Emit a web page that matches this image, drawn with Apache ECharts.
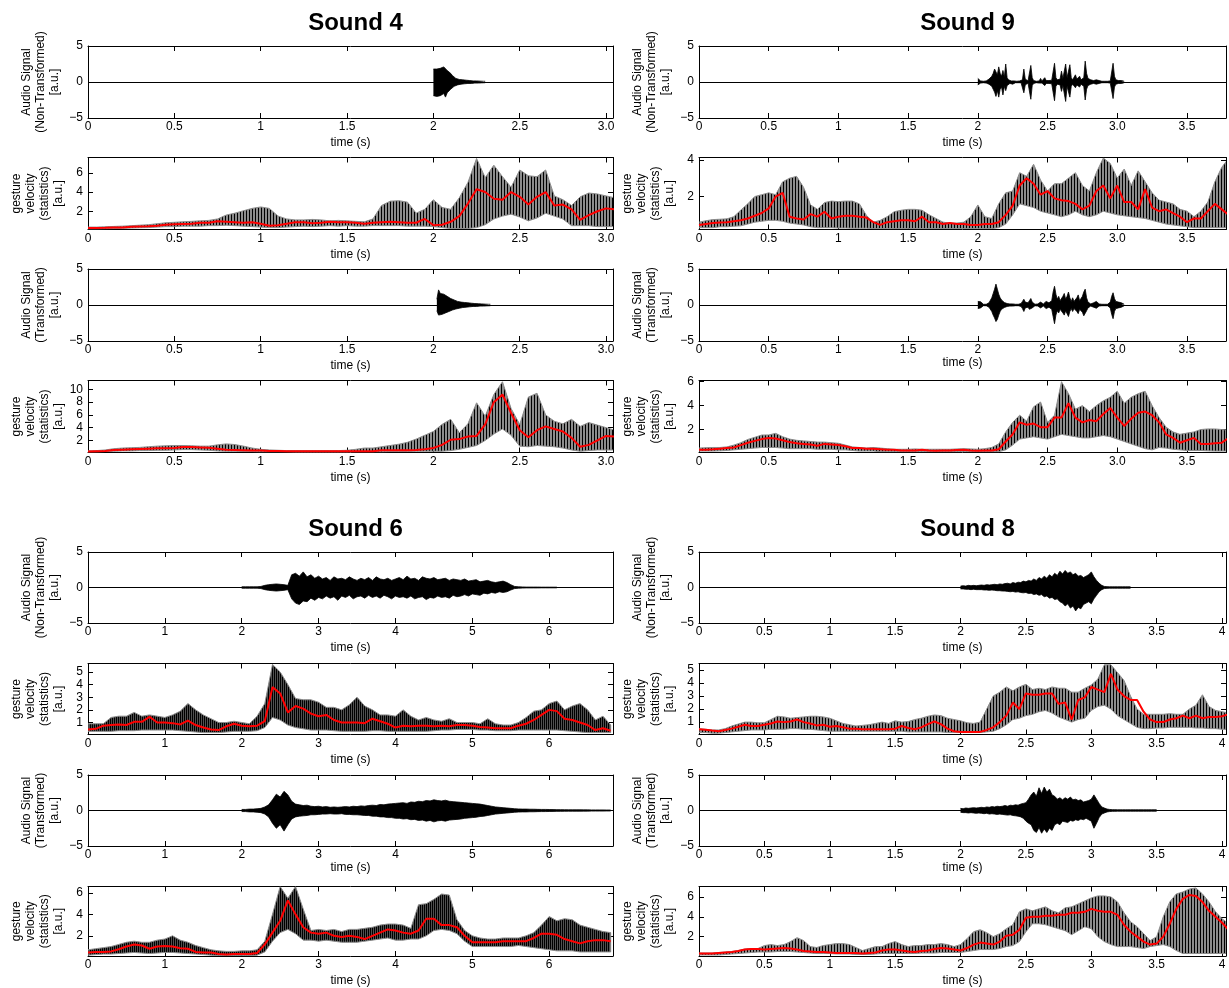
<!DOCTYPE html>
<html><head><meta charset="utf-8">
<script src="https://cdn.jsdelivr.net/npm/echarts@6.0.0/dist/echarts.min.js"></script>
<style>html,body{margin:0;padding:0;background:#fff}#c{width:1229px;height:988px}</style>
</head><body><div id="c"></div>
<script>
// ---------- tick labels ----------
const S4_XTICKS = [0,0.5,1,1.5,2,2.5,3];
const S4_XLABELS = ['0','0.5','1','1.5','2','2.5','3.0'];
const S9_XTICKS = [0,0.5,1,1.5,2,2.5,3,3.5];
const S9_XLABELS = ['0','0.5','1','1.5','2','2.5','3.0','3.5'];
const S6_XTICKS = [0,1,2,3,4,5,6];
const S6_XLABELS = ['0','1','2','3','4','5','6'];
const S8_XTICKS = [0,0.5,1,1.5,2,2.5,3,3.5,4];
const S8_XLABELS = ['0','0.5','1','1.5','2','2.5','3','3.5','4'];
const AUDIO_YTICKS = [-5,0,5];
const AUDIO_YLABELS = ['\u22125','0','5'];

// ---------- Sound 4 ----------
const S4_NT_UP = [1.8,1.9,1.8,2.0,1.9,1.8,2.1,1.9,1.6,1.4,1.2,0.9,0.7,0.5,0.4,0.35,0.3,0.3,0.25,0.25,0.2,0.2,0.2,0.15,0.15,0.15,0.15,0.12,0.12,0.1,0.1];
const S4_NT_DN = [-1.9,-1.7,-2.0,-1.8,-1.9,-2.0,-1.6,-2.1,-1.5,-1.3,-1.0,-0.8,-0.6,-0.5,-0.4,-0.35,-0.3,-0.3,-0.25,-0.25,-0.2,-0.2,-0.2,-0.15,-0.15,-0.15,-0.15,-0.12,-0.12,-0.1,-0.1];
const S4_TR_UP = [0.8,2.1,1.6,1.4,1.5,1.3,1.2,1.0,0.9,0.8,0.7,0.6,0.5,0.45,0.4,0.35,0.35,0.3,0.3,0.25,0.25,0.2,0.2,0.2,0.18,0.15,0.15,0.15,0.12,0.12,0.1,0.1];
const S4_TR_DN = [-0.8,-1.4,-1.2,-1.3,-1.5,-1.1,-1.0,-0.9,-0.8,-0.7,-0.6,-0.55,-0.5,-0.45,-0.4,-0.35,-0.35,-0.3,-0.3,-0.25,-0.25,-0.2,-0.2,-0.2,-0.18,-0.15,-0.15,-0.15,-0.12,-0.12,-0.1,-0.1];
const S4_G1_HI = [0.35,0.35,0.38,0.42,0.45,0.5,0.55,0.6,0.7,0.8,0.85,0.9,0.95,1.0,1.05,1.2,1.6,1.8,2.05,2.3,2.45,2.3,1.5,1.2,1.1,1.1,1.15,1.1,1.0,1.05,1.0,0.95,0.9,1.2,2.6,3.05,3.1,2.95,1.8,2.2,3.2,2.4,2.2,3.4,5.0,7.5,5.5,6.8,5.6,4.5,6.3,5.7,5.6,6.3,3.6,3.2,2.6,3.5,3.9,3.8,3.6,3.4];
const S4_G1_LO = [0.15,0.15,0.18,0.2,0.22,0.25,0.28,0.3,0.35,0.4,0.4,0.45,0.45,0.45,0.5,0.5,0.55,0.5,0.45,0.4,0.35,0.3,0.3,0.35,0.4,0.45,0.4,0.45,0.5,0.45,0.5,0.45,0.45,0.5,0.5,0.5,0.5,0.45,0.45,0.45,0.4,0.3,0.2,0.2,0.2,0.3,0.6,1.2,1.5,1.7,1.4,1.0,1.3,1.8,1.5,1.2,0.5,0.5,0.5,0.4,0.4,0.4];
const S4_G1_MEAN = [0.25,0.25,0.27,0.3,0.32,0.38,0.42,0.45,0.5,0.6,0.65,0.68,0.7,0.8,0.8,0.95,0.9,0.85,0.8,0.85,0.7,0.5,0.55,0.7,0.85,0.85,0.75,0.8,0.9,0.85,0.85,0.8,0.7,0.8,0.85,0.9,0.85,0.8,0.8,1.2,0.55,0.6,0.9,1.5,2.8,4.3,4.0,3.3,3.2,4.0,3.5,2.7,3.5,4.0,2.6,2.7,2.2,1.1,1.6,2.0,2.3,2.2];
const S4_G2_HI = [0.35,0.4,0.5,0.7,0.8,0.85,0.9,1.0,1.1,1.15,1.2,1.2,1.15,1.1,1.1,1.3,1.45,1.35,1.1,0.8,0.6,0.5,0.45,0.4,0.4,0.4,0.4,0.4,0.4,0.4,0.45,0.6,0.8,0.8,1.0,1.2,1.4,1.7,2.2,2.8,3.4,4.5,5.3,3.2,4.6,7.9,5.8,9.2,11.2,7.0,4.5,8.8,9.4,6.0,5.0,4.6,5.3,4.2,4.8,4.4,4.0,3.6];
const S4_G2_LO = [0.2,0.2,0.25,0.3,0.35,0.35,0.4,0.4,0.45,0.45,0.5,0.55,0.55,0.5,0.45,0.35,0.3,0.3,0.25,0.25,0.2,0.2,0.2,0.2,0.15,0.15,0.15,0.15,0.15,0.15,0.15,0.2,0.2,0.2,0.2,0.25,0.25,0.25,0.3,0.3,0.3,0.3,0.4,0.6,0.9,1.2,2.0,3.0,3.8,2.8,1.1,1.0,1.2,1.1,1.0,0.8,0.5,0.3,0.4,0.5,0.5,0.5];
const S4_G2_MEAN = [0.25,0.3,0.35,0.5,0.55,0.6,0.65,0.7,0.75,0.75,0.8,0.95,0.95,0.9,0.85,0.7,0.55,0.5,0.45,0.4,0.4,0.35,0.35,0.3,0.3,0.3,0.3,0.3,0.3,0.3,0.3,0.3,0.3,0.3,0.45,0.45,0.45,0.45,0.5,0.6,0.8,1.3,2.1,2.2,2.6,2.7,4.5,8.0,9.2,6.3,3.6,2.5,3.6,4.2,3.8,3.4,2.4,1.0,1.3,2.0,2.7,2.6];

// ---------- Sound 9 ----------
const S9_NT_UP = [0.5,0.3,0.15,0.1,0.1,0.1,0.15,0.1,0.4,0.3,0.8,1.2,1.8,1.9,1.0,2.1,1.2,0.8,1.6,0.7,2.5,0.6,0.3,0.2,0.15,0.3,0.15,0.1,0.1,0.1,0.15,0.1,0.3,1.8,0.4,0.2,0.15,0.3,2.3,0.6,0.2,0.15,0.1,0.1,0.15,0.5,0.15,0.2,0.6,0.2,0.15,0.2,0.3,0.25,0.4,2.6,0.6,0.3,0.5,0.4,1.5,0.5,0.4,2.5,0.6,0.5,2.4,0.6,0.3,0.3,1.0,0.4,0.3,0.8,0.3,0.4,0.6,2.9,1.2,0.5,0.6,0.3,0.25,0.2,0.25,0.3,0.4,0.2,0.15,0.1,0.1,0.1,0.1,0.1,0.12,0.15,0.4,2.6,0.8,0.3,0.4,0.2,0.15,0.2,0.1,0.1];
const S9_NT_DN = [-0.4,-0.3,-0.15,-0.1,-0.1,-0.1,-0.15,-0.1,-0.3,-0.3,-0.6,-1.0,-1.4,-2.0,-1.2,-2.1,-1.0,-0.7,-1.8,-0.6,-1.2,-0.5,-0.3,-0.2,-0.15,-0.3,-0.15,-0.1,-0.1,-0.1,-0.15,-0.1,-0.3,-1.5,-0.4,-0.2,-0.15,-0.3,-2.4,-0.5,-0.2,-0.15,-0.1,-0.1,-0.15,-0.4,-0.15,-0.2,-0.5,-0.2,-0.15,-0.2,-0.3,-0.25,-0.4,-2.6,-0.6,-0.3,-0.5,-0.4,-1.3,-0.5,-0.4,-2.7,-0.6,-0.5,-2.1,-0.6,-0.3,-0.3,-0.8,-0.4,-0.3,-0.7,-0.3,-0.4,-0.6,-2.5,-1.0,-0.5,-0.5,-0.3,-0.25,-0.2,-0.25,-0.3,-0.3,-0.2,-0.15,-0.1,-0.1,-0.1,-0.1,-0.1,-0.12,-0.15,-0.4,-2.3,-0.7,-0.3,-0.4,-0.2,-0.15,-0.2,-0.1,-0.1];
const S9_TR_UP = [0.5,0.55,0.45,0.3,0.1,0.1,0.1,0.15,0.3,0.5,1.0,1.6,2.2,2.9,2.2,1.5,1.0,0.7,0.5,0.35,0.3,0.2,0.2,0.15,0.2,0.15,0.15,0.1,0.1,0.1,0.15,0.2,0.5,0.8,0.4,0.2,0.3,0.6,0.9,0.4,0.15,0.1,0.1,0.15,0.3,0.4,0.2,0.15,0.3,0.5,0.6,0.3,0.2,0.6,1.8,2.6,1.5,0.8,1.2,0.6,0.8,1.2,1.6,0.8,1.2,1.8,1.0,0.5,1.0,0.5,0.6,1.0,1.4,0.6,0.5,1.2,1.8,2.2,1.0,0.4,0.2,0.15,0.2,0.3,0.45,0.5,0.3,0.15,0.1,0.1,0.1,0.1,0.1,0.1,0.15,0.4,1.2,1.7,0.9,0.5,0.6,0.4,0.3,0.3,0.15,0.1];
const S9_TR_DN = [-0.5,-0.5,-0.4,-0.3,-0.1,-0.1,-0.1,-0.15,-0.3,-0.5,-0.9,-1.4,-1.8,-2.3,-2.0,-1.4,-0.9,-0.6,-0.5,-0.35,-0.3,-0.2,-0.2,-0.15,-0.2,-0.15,-0.15,-0.1,-0.1,-0.1,-0.15,-0.2,-0.5,-0.9,-0.4,-0.2,-0.3,-0.6,-0.8,-0.4,-0.15,-0.1,-0.1,-0.15,-0.3,-0.4,-0.2,-0.15,-0.3,-0.5,-0.6,-0.3,-0.2,-0.6,-1.6,-2.6,-1.4,-0.8,-1.1,-0.6,-0.8,-1.1,-1.4,-0.8,-1.0,-1.6,-0.9,-0.5,-0.9,-0.5,-0.6,-0.9,-1.2,-0.6,-0.5,-1.0,-1.5,-1.6,-0.8,-0.4,-0.2,-0.15,-0.2,-0.3,-0.4,-0.45,-0.3,-0.15,-0.1,-0.1,-0.1,-0.1,-0.1,-0.1,-0.15,-0.4,-1.3,-1.9,-0.9,-0.5,-0.6,-0.4,-0.3,-0.3,-0.15,-0.1];
const S9_G1_HI = [0.6,0.68,0.74,0.76,0.78,0.9,1.26,1.6,2.0,2.1,2.2,2.1,2.8,3.0,3.1,2.5,1.54,1.3,1.67,1.75,1.72,1.75,1.75,1.6,0.98,0.6,0.7,0.9,1.17,1.25,1.3,1.3,1.25,1.0,0.8,0.6,0.55,0.55,0.6,0.9,1.54,0.9,0.8,1.6,2.2,2.3,3.3,3.1,3.76,2.9,2.3,2.7,2.7,3.0,3.3,2.6,2.3,3.3,4.1,3.8,3.0,3.5,2.6,3.4,2.8,2.2,1.8,1.7,1.6,1.3,1.2,0.9,1.2,1.7,2.8,3.6,4.1];
const S9_G1_LO = [0.3,0.3,0.3,0.35,0.35,0.38,0.4,0.5,0.6,0.65,0.7,0.7,0.65,0.55,0.5,0.45,0.35,0.3,0.3,0.3,0.28,0.28,0.27,0.27,0.27,0.25,0.25,0.25,0.25,0.25,0.25,0.25,0.25,0.25,0.25,0.25,0.25,0.25,0.25,0.25,0.25,0.25,0.25,0.3,0.5,1.0,1.6,1.5,1.4,1.2,1.1,1.0,0.9,1.0,1.2,1.0,0.9,1.0,1.2,1.1,1.0,0.95,0.9,0.85,0.8,0.7,0.6,0.5,0.45,0.4,0.35,0.3,0.3,0.3,0.3,0.3,0.3];
const S9_G1_MEAN = [0.45,0.5,0.55,0.58,0.6,0.65,0.7,0.8,0.95,1.1,1.35,2.0,2.2,0.9,0.8,0.75,1.04,0.9,1.17,0.8,0.9,0.95,0.95,0.9,0.85,0.6,0.45,0.6,0.65,0.7,0.7,0.65,0.9,0.6,0.6,0.5,0.55,0.5,0.5,0.45,0.45,0.5,0.5,0.6,1.0,1.5,2.6,3.0,2.7,2.1,2.3,1.9,1.8,1.75,1.6,1.3,1.5,2.3,2.6,1.9,2.6,1.7,1.7,1.3,2.4,1.4,1.2,1.3,1.1,0.9,0.6,0.8,0.8,1.2,1.6,1.3,1.0];
const S9_G2_HI = [0.45,0.48,0.5,0.5,0.55,0.7,0.9,1.17,1.35,1.54,1.55,1.68,1.4,1.2,1.1,1.05,1.0,0.95,0.95,0.9,0.85,0.7,0.55,0.5,0.45,0.5,0.45,0.4,0.35,0.35,0.35,0.38,0.35,0.35,0.35,0.35,0.35,0.38,0.4,0.38,0.35,0.4,0.5,0.8,1.8,2.6,3.2,2.7,3.9,4.3,2.6,3.2,6.0,5.0,3.7,4.0,3.5,4.0,4.4,4.7,5.2,4.2,4.7,5.0,5.2,4.0,3.0,2.2,1.8,1.6,1.7,1.8,2.0,2.05,2.05,2.0,1.95];
const S9_G2_LO = [0.2,0.2,0.2,0.22,0.25,0.3,0.35,0.4,0.45,0.5,0.5,0.5,0.45,0.4,0.4,0.4,0.4,0.35,0.35,0.35,0.3,0.3,0.25,0.2,0.2,0.2,0.15,0.15,0.15,0.15,0.15,0.15,0.15,0.15,0.15,0.15,0.15,0.15,0.15,0.15,0.15,0.15,0.15,0.15,0.3,0.7,1.2,1.3,1.4,1.3,1.2,1.4,1.6,1.5,1.4,1.3,1.3,1.4,1.5,1.4,1.2,1.0,0.8,0.6,0.4,0.3,0.5,0.45,0.35,0.3,0.25,0.25,0.25,0.22,0.2,0.2,0.2];
const S9_G2_MEAN = [0.3,0.32,0.35,0.4,0.45,0.5,0.7,0.9,1.05,1.2,1.3,1.25,1.1,0.95,0.85,0.8,0.75,0.65,0.8,0.75,0.7,0.6,0.45,0.45,0.4,0.4,0.35,0.3,0.3,0.25,0.25,0.25,0.3,0.25,0.22,0.25,0.25,0.28,0.3,0.25,0.22,0.25,0.25,0.35,1.0,1.6,2.6,2.4,2.5,2.2,2.2,3.0,3.0,4.2,3.0,2.6,2.8,2.7,3.3,3.8,3.0,2.3,2.9,3.4,3.5,3.2,2.6,1.6,1.3,0.9,1.1,1.3,0.8,0.8,0.85,0.9,1.3];

// ---------- Sound 6 ----------
const S6_NT_UP = [0.1,0.1,0.1,0.1,0.1,0.15,0.3,0.4,0.45,0.5,0.45,0.4,0.3,1.8,2.0,1.6,2.2,1.5,1.8,1.3,1.6,1.2,1.4,1.0,1.5,1.2,1.3,1.1,1.5,1.2,1.0,1.3,1.1,1.4,1.0,1.5,1.2,1.1,1.3,1.0,1.2,1.4,1.1,1.6,1.2,1.3,1.0,1.5,1.3,1.2,1.4,1.1,1.2,1.3,1.0,1.2,1.1,1.0,1.2,0.9,1.0,1.1,0.8,0.9,1.0,0.8,0.7,0.8,0.9,0.7,0.4,0.15,0.1,0.08,0.06,0.06,0.06,0.06,0.05,0.05,0.05,0.05,0.05];
const S6_NT_DN = [-0.1,-0.1,-0.1,-0.1,-0.1,-0.15,-0.3,-0.4,-0.45,-0.5,-0.45,-0.4,-0.3,-1.6,-2.2,-2.4,-1.9,-2.0,-1.5,-1.8,-1.4,-1.6,-1.2,-1.5,-1.3,-1.8,-1.2,-1.4,-1.1,-1.6,-1.3,-1.2,-1.5,-1.1,-1.4,-1.2,-1.5,-1.1,-1.3,-1.6,-1.2,-1.4,-1.3,-1.5,-1.2,-1.6,-1.4,-1.3,-1.7,-1.4,-1.5,-1.2,-1.4,-1.3,-1.5,-1.1,-1.3,-1.2,-1.0,-1.2,-0.9,-1.0,-1.1,-0.8,-0.9,-0.7,-0.8,-0.6,-0.7,-0.6,-0.35,-0.15,-0.1,-0.08,-0.06,-0.06,-0.06,-0.06,-0.05,-0.05,-0.05,-0.05,-0.05];
const S6_TR_UP = [0.15,0.15,0.2,0.2,0.25,0.3,0.5,0.8,1.5,2.3,1.9,2.7,2.2,1.3,0.9,0.8,0.7,0.75,0.6,0.55,0.6,0.5,0.55,0.45,0.5,0.45,0.5,0.55,0.5,0.6,0.55,0.65,0.6,0.7,0.75,0.7,0.85,0.8,0.9,0.95,1.0,1.05,1.1,1.0,1.2,1.15,1.3,1.25,1.4,1.35,1.5,1.4,1.35,1.45,1.3,1.25,1.2,1.15,1.1,1.05,1.0,0.95,0.9,0.8,0.7,0.6,0.5,0.45,0.4,0.35,0.3,0.25,0.22,0.2,0.2,0.18,0.18,0.16,0.15,0.15,0.14,0.13,0.12,0.12,0.11,0.1,0.1,0.1,0.1,0.09,0.09,0.08,0.08,0.08,0.08,0.07,0.07];
const S6_TR_DN = [-0.15,-0.15,-0.2,-0.2,-0.25,-0.3,-0.5,-0.9,-1.8,-2.5,-2.0,-2.9,-2.0,-1.2,-0.9,-0.8,-0.75,-0.7,-0.6,-0.6,-0.55,-0.5,-0.5,-0.45,-0.5,-0.5,-0.45,-0.55,-0.55,-0.6,-0.6,-0.65,-0.7,-0.7,-0.8,-0.8,-0.9,-0.9,-1.0,-1.0,-1.1,-1.1,-1.2,-1.15,-1.3,-1.25,-1.4,-1.35,-1.5,-1.4,-1.6,-1.45,-1.4,-1.5,-1.35,-1.3,-1.25,-1.2,-1.1,-1.05,-1.0,-0.95,-0.85,-0.8,-0.7,-0.6,-0.5,-0.45,-0.4,-0.35,-0.3,-0.25,-0.22,-0.2,-0.2,-0.18,-0.18,-0.16,-0.15,-0.15,-0.14,-0.13,-0.12,-0.12,-0.11,-0.1,-0.1,-0.1,-0.1,-0.09,-0.09,-0.08,-0.08,-0.08,-0.08,-0.07,-0.07];
const S6_G1_HI = [0.9,0.9,0.9,1.4,1.5,1.5,1.8,1.5,1.6,1.5,1.4,1.6,1.9,2.5,2.0,1.6,1.3,1.0,1.0,1.1,1.0,0.9,1.5,2.5,5.6,5.0,4.0,2.9,2.8,2.8,2.6,2.2,2.2,2.0,2.4,3.0,2.3,2.0,1.6,1.6,1.5,2.0,1.5,1.2,1.4,1.2,1.1,1.3,1.0,1.0,1.0,0.9,1.3,0.9,0.8,0.8,1.0,1.4,1.9,2.0,2.5,2.7,2.0,2.3,2.5,2.0,1.2,1.5,0.8];
const S6_G1_LO = [0.3,0.3,0.3,0.3,0.35,0.35,0.35,0.4,0.4,0.4,0.4,0.4,0.35,0.3,0.25,0.2,0.2,0.2,0.25,0.3,0.3,0.3,0.35,0.6,1.4,1.2,0.8,0.6,0.5,0.4,0.4,0.4,0.35,0.3,0.3,0.3,0.3,0.35,0.35,0.3,0.3,0.3,0.3,0.3,0.3,0.35,0.4,0.4,0.45,0.45,0.45,0.4,0.4,0.35,0.35,0.35,0.4,0.4,0.4,0.4,0.4,0.4,0.35,0.3,0.25,0.2,0.2,0.2,0.2];
const S6_G1_MEAN = [0.45,0.5,0.75,0.8,0.85,0.8,1.05,1.05,1.45,1.0,1.0,0.95,0.85,1.15,0.8,0.6,0.45,0.4,0.7,0.9,0.75,0.7,0.75,1.1,3.8,3.3,1.8,2.3,2.1,1.7,1.5,1.6,1.2,1.0,1.0,1.0,0.95,1.3,1.1,0.9,0.6,0.75,0.7,0.75,0.75,0.7,0.75,0.7,0.8,0.8,0.75,0.65,0.6,0.55,0.55,0.55,0.75,0.9,1.2,1.6,2.0,1.9,1.3,1.2,1.0,0.8,0.4,0.55,0.35];
const S6_G2_HI = [0.7,0.8,0.9,1.0,1.2,1.4,1.5,1.4,1.4,1.6,1.7,2.0,1.6,1.4,1.1,0.9,0.7,0.6,0.55,0.55,0.6,0.6,0.7,1.5,4.0,6.6,5.5,6.6,4.5,2.5,2.6,2.5,2.6,2.4,2.6,2.6,2.7,2.8,3.0,3.1,3.1,3.0,2.7,4.9,5.0,5.4,5.9,5.8,3.5,2.5,2.0,1.8,1.7,1.7,1.8,1.8,1.8,2.0,2.3,3.0,3.8,3.4,3.6,3.5,3.0,2.8,2.6,2.4,2.3];
const S6_G2_LO = [0.2,0.25,0.3,0.3,0.35,0.4,0.45,0.4,0.35,0.4,0.45,0.45,0.4,0.35,0.3,0.25,0.2,0.15,0.15,0.15,0.15,0.15,0.2,0.5,1.5,2.3,2.6,2.2,1.6,1.6,1.5,1.6,1.5,1.4,1.4,1.4,1.5,1.6,1.7,1.8,1.6,1.6,1.7,1.7,2.0,2.5,2.6,2.5,2.2,1.5,1.0,1.0,1.0,1.0,1.0,1.0,1.1,1.0,0.9,0.8,0.7,0.6,0.6,0.6,0.5,0.5,0.5,0.5,0.5];
const S6_G2_MEAN = [0.45,0.5,0.5,0.55,0.75,1.0,1.2,1.1,0.8,1.0,1.05,1.0,0.85,0.8,0.5,0.45,0.45,0.3,0.25,0.3,0.3,0.3,0.4,1.2,2.3,3.4,5.3,4.0,2.8,2.3,2.2,2.3,2.0,1.9,2.0,1.9,1.7,2.0,2.3,2.6,2.5,2.3,2.2,2.5,3.6,3.6,3.0,3.0,2.8,2.0,1.4,1.4,1.4,1.4,1.5,1.5,1.5,1.5,1.8,2.2,2.2,2.1,1.7,1.5,1.3,1.5,1.6,1.6,1.5];

// ---------- Sound 8 ----------
const S8_NT_UP = [0.2,0.25,0.2,0.3,0.25,0.3,0.25,0.3,0.35,0.3,0.4,0.35,0.4,0.45,0.4,0.5,0.45,0.55,0.6,0.5,0.7,0.6,0.75,0.7,0.9,0.8,1.0,0.9,1.2,1.0,1.4,1.2,1.6,1.3,1.8,1.5,2.0,1.7,2.3,1.9,2.4,2.0,2.2,1.8,2.0,1.6,1.7,1.4,1.6,1.8,2.2,1.5,1.0,0.6,0.3,0.15,0.12,0.1,0.1,0.1,0.1,0.1,0.1,0.1,0.1,0.1];
const S8_NT_DN = [-0.2,-0.2,-0.25,-0.25,-0.3,-0.25,-0.3,-0.3,-0.3,-0.35,-0.35,-0.4,-0.35,-0.4,-0.45,-0.45,-0.5,-0.5,-0.55,-0.6,-0.55,-0.65,-0.6,-0.7,-0.75,-0.7,-0.85,-0.8,-1.0,-0.9,-1.1,-1.0,-1.3,-1.2,-1.5,-1.4,-1.7,-1.6,-2.0,-2.2,-2.6,-2.3,-2.9,-2.6,-3.3,-2.8,-3.0,-2.4,-2.2,-2.0,-2.3,-1.6,-1.1,-0.6,-0.3,-0.15,-0.12,-0.1,-0.1,-0.1,-0.1,-0.1,-0.1,-0.1,-0.1,-0.1];
const S8_TR_UP = [0.3,0.25,0.35,0.3,0.35,0.4,0.35,0.4,0.45,0.4,0.5,0.45,0.55,0.5,0.6,0.55,0.6,0.7,0.6,0.75,0.7,0.8,0.75,0.9,1.0,1.1,1.6,2.2,2.6,2.0,3.2,2.4,3.3,2.6,3.0,2.2,2.0,1.6,1.8,1.5,1.8,1.6,1.9,1.5,1.6,1.4,1.5,1.2,1.3,1.4,1.6,2.2,1.6,1.0,0.5,0.35,0.2,0.15,0.12,0.12,0.1,0.1,0.1,0.1,0.1,0.1,0.1,0.1,0.1,0.1,0.1,0.1,0.1,0.1,0.1,0.1];
const S8_TR_DN = [-0.25,-0.3,-0.3,-0.35,-0.3,-0.35,-0.4,-0.35,-0.4,-0.45,-0.4,-0.5,-0.45,-0.5,-0.55,-0.5,-0.55,-0.6,-0.65,-0.6,-0.7,-0.75,-0.8,-0.9,-1.1,-1.5,-1.8,-2.0,-2.8,-3.1,-2.4,-3.2,-2.6,-3.1,-2.5,-2.8,-2.0,-1.8,-2.0,-1.5,-1.6,-1.7,-1.4,-1.5,-1.3,-1.4,-1.2,-1.3,-1.1,-1.3,-1.5,-2.5,-1.8,-1.0,-0.5,-0.35,-0.2,-0.15,-0.12,-0.12,-0.1,-0.1,-0.1,-0.1,-0.1,-0.1,-0.1,-0.1,-0.1,-0.1,-0.1,-0.1,-0.1,-0.1,-0.1,-0.1];
const S8_G1_HI = [0.5,0.45,0.4,0.4,0.5,0.7,0.85,1.0,1.0,0.95,0.95,1.2,1.45,1.4,1.3,1.35,1.4,1.45,1.45,1.4,1.3,1.1,0.9,0.8,0.7,0.75,0.8,0.9,1.0,0.9,1.1,1.0,1.05,1.2,1.3,1.45,1.55,1.5,1.3,1.2,1.1,0.95,0.9,1.0,2.0,3.0,3.3,3.7,3.4,3.7,3.9,3.5,3.6,3.5,3.7,3.6,3.6,3.3,3.3,3.6,3.85,4.3,5.4,5.4,4.8,4.2,3.0,2.0,1.6,1.6,1.6,1.6,1.65,1.6,1.6,2.0,2.3,3.1,2.2,1.9,1.8,1.7];
const S8_G1_LO = [0.2,0.2,0.15,0.15,0.2,0.25,0.3,0.35,0.4,0.4,0.4,0.45,0.45,0.45,0.5,0.5,0.45,0.45,0.4,0.35,0.3,0.3,0.3,0.3,0.3,0.3,0.3,0.3,0.3,0.3,0.3,0.3,0.25,0.25,0.25,0.25,0.25,0.25,0.2,0.2,0.2,0.2,0.2,0.2,0.25,0.3,0.5,0.8,1.2,1.3,1.5,1.6,1.8,1.9,1.7,1.4,1.2,1.0,1.2,1.3,1.9,2.2,2.3,2.0,1.5,1.2,0.9,0.6,0.5,0.5,0.55,0.55,0.6,0.6,0.6,0.6,0.55,0.55,0.5,0.5,0.45,0.45];
const S8_G1_MEAN = [0.45,0.42,0.35,0.3,0.4,0.5,0.65,0.8,0.7,0.7,0.8,0.9,1.05,1.0,1.05,1.2,1.0,0.9,0.75,0.8,0.65,0.7,0.6,0.5,0.5,0.45,0.45,0.45,0.45,0.45,0.5,0.7,0.55,0.45,0.6,0.85,1.05,0.85,0.5,0.3,0.25,0.25,0.25,0.25,0.4,0.6,1.0,1.5,2.5,2.0,3.2,3.1,3.1,3.2,3.2,2.4,2.5,1.2,2.7,2.9,3.7,3.5,3.3,4.7,3.5,3.0,2.7,2.7,1.8,1.2,1.0,1.0,1.2,1.3,1.5,1.3,1.5,1.3,1.4,1.4,1.45,1.6];
const S8_G2_HI = [0.35,0.35,0.35,0.4,0.45,0.5,0.6,0.75,0.8,0.8,1.1,1.2,1.1,1.2,1.5,1.9,1.6,1.0,0.9,1.1,1.2,1.3,1.3,1.2,0.9,0.6,0.8,1.0,1.0,1.3,1.5,1.2,1.0,1.1,1.1,1.2,1.2,1.3,1.2,1.0,1.2,1.8,2.5,2.7,2.4,2.0,2.3,2.8,3.2,4.5,4.8,4.6,4.8,5.0,4.6,4.4,4.9,5.0,5.3,5.6,5.9,6.1,6.1,6.0,5.5,4.4,3.5,3.0,2.3,1.6,2.0,4.0,5.5,6.3,6.5,6.8,6.9,6.3,5.5,4.5,3.8,3.3];
const S8_G2_LO = [0.15,0.15,0.15,0.15,0.2,0.25,0.3,0.35,0.4,0.45,0.45,0.45,0.5,0.5,0.5,0.45,0.4,0.35,0.3,0.3,0.3,0.25,0.25,0.25,0.2,0.2,0.2,0.25,0.3,0.3,0.3,0.3,0.3,0.3,0.35,0.35,0.35,0.4,0.4,0.4,0.4,0.5,0.6,0.7,0.7,0.7,0.8,1.0,1.1,1.5,2.5,3.3,3.3,3.2,3.0,2.8,2.6,2.2,2.6,3.0,2.8,2.0,1.5,1.2,1.0,1.0,1.0,0.9,0.8,1.0,1.1,1.2,1.0,0.6,0.3,0.3,0.3,0.3,0.3,0.3,0.3,0.3];
const S8_G2_MEAN = [0.3,0.3,0.3,0.35,0.4,0.45,0.55,0.7,0.75,0.75,0.7,0.75,0.8,0.85,0.8,0.7,0.55,0.5,0.45,0.45,0.4,0.35,0.35,0.35,0.35,0.3,0.35,0.4,0.6,0.7,0.7,0.6,0.5,0.45,0.55,0.6,0.75,0.85,0.8,0.7,0.6,0.85,1.2,1.4,1.3,1.2,1.5,2.1,2.2,2.7,3.9,4.0,4.0,4.1,4.1,4.2,4.2,4.4,4.4,4.5,4.8,4.6,4.5,4.5,4.2,3.2,2.5,2.0,1.5,1.2,1.3,2.0,3.3,4.8,5.8,6.2,6.1,5.5,4.6,4.0,3.4,2.7];

// ---------- layout / style ----------
const FONT = '"Liberation Sans", Arial, Helvetica, sans-serif';
const AUDIO_NT = 'Audio Signal\n(Non-Transformed)\n[a.u.]';
const AUDIO_TR = 'Audio Signal\n(Transformed)\n[a.u.]';
const GESTURE = 'gesture\nvelocity\n(statistics)\n[a.u.]';
const COLS = [{left:88,width:525},{left:699,width:527}];
const ROWS = [{top:46,h:72},{top:157.5,h:72},{top:269,h:72},{top:380.5,h:72},
              {top:552,h:71},{top:663.5,h:71},{top:775,h:71},{top:886.5,h:71}];

function stripes(period, light){
  const c = document.createElement('canvas'); c.width = period; c.height = 8;
  const g = c.getContext('2d'); g.fillStyle = light; g.fillRect(0,0,period,8);
  g.fillStyle = '#000'; g.fillRect(0,0,1,8); return c;
}

const SOUNDS = [
  {title:'Sound 4', col:0, row0:0, xmax:3.04, xt:S4_XTICKS, xl:S4_XLABELS, gStep:0.05, pat:[3,'#8c8c8c'],
   panels:[
    {kind:'a', name:AUDIO_NT, up:S4_NT_UP, dn:S4_NT_DN, t0:2.0, dt:0.01, gap:19},
    {kind:'g', hi:S4_G1_HI, lo:S4_G1_LO, mean:S4_G1_MEAN, ymin:0.1, ymax:7.6, yt:[2,4,6], gap:19},
    {kind:'a', name:AUDIO_TR, up:S4_TR_UP, dn:S4_TR_DN, t0:2.02, dt:0.01, gap:19},
    {kind:'g', hi:S4_G2_HI, lo:S4_G2_LO, mean:S4_G2_MEAN, ymin:0.1, ymax:11.4, yt:[2,4,6,8,10], gap:19}]},
  {title:'Sound 9', col:1, row0:0, xmax:3.78, xt:S9_XTICKS, xl:S9_XLABELS, gStep:0.05, pat:[3,'#8c8c8c'],
   panels:[
    {kind:'a', name:AUDIO_NT, up:S9_NT_UP, dn:S9_NT_DN, t0:2.0, dt:0.01, gap:19},
    {kind:'g', hi:S9_G1_HI, lo:S9_G1_LO, mean:S9_G1_MEAN, ymin:0.2, ymax:4.13, yt:[2,4], gap:19},
    {kind:'a', name:AUDIO_TR, up:S9_TR_UP, dn:S9_TR_DN, t0:2.0, dt:0.01, gap:12},
    {kind:'g', hi:S9_G2_HI, lo:S9_G2_LO, mean:S9_G2_MEAN, ymin:0.08, ymax:6.1, yt:[2,4,6], gap:19}]},
  {title:'Sound 6', col:0, row0:4, xmax:6.83, xt:S6_XTICKS, xl:S6_XLABELS, gStep:0.1, pat:[2,'#505050'],
   panels:[
    {kind:'a', name:AUDIO_NT, up:S6_NT_UP, dn:S6_NT_DN, t0:2.0, dt:0.05, gap:19},
    {kind:'g', hi:S6_G1_HI, lo:S6_G1_LO, mean:S6_G1_MEAN, ymin:0.05, ymax:5.67, yt:[1,2,3,4,5], gap:19},
    {kind:'a', name:AUDIO_TR, up:S6_TR_UP, dn:S6_TR_DN, t0:2.0, dt:0.05, gap:15},
    {kind:'g', hi:S6_G2_HI, lo:S6_G2_LO, mean:S6_G2_MEAN, ymin:0.12, ymax:6.6, yt:[2,4,6], gap:19}]},
  {title:'Sound 8', col:1, row0:4, xmax:4.03, xt:S8_XTICKS, xl:S8_XLABELS, gStep:0.05, pat:[3,'#8c8c8c'],
   panels:[
    {kind:'a', name:AUDIO_NT, up:S8_NT_UP, dn:S8_NT_DN, t0:2.0, dt:0.02, gap:19},
    {kind:'g', hi:S8_G1_HI, lo:S8_G1_LO, mean:S8_G1_MEAN, ymin:0.05, ymax:5.5, yt:[1,2,3,4,5], gap:19},
    {kind:'a', name:AUDIO_TR, up:S8_TR_UP, dn:S8_TR_DN, t0:2.0, dt:0.02, gap:15},
    {kind:'g', hi:S8_G2_HI, lo:S8_G2_LO, mean:S8_G2_MEAN, ymin:0.05, ymax:7.05, yt:[2,4,6], gap:19}]}
];

const option = {animation:false, textStyle:{fontFamily:FONT}, title:[], grid:[], xAxis:[], yAxis:[], series:[]};
const lineCol = {color:'#000', width:1};
const tickBase = {show:true, inside:true, length:5, lineStyle:{color:'#000', width:1}};
const txt = {fontSize:12, color:'#000', fontFamily:FONT};
let gi = 0;
SOUNDS.forEach(s => {
  const col = COLS[s.col];
  option.title.push({text:s.title, left:col.left + col.width/2, top:ROWS[s.row0].top - 40, textAlign:'center',
    textStyle:{fontSize:24, fontWeight:'bold', color:'#000', fontFamily:FONT}});
  const xlbl = v => { const i = s.xt.findIndex(t => Math.abs(t - v) < 1e-6); return i < 0 ? '' : s.xl[i]; };
  const pattern = stripes(s.pat[0], s.pat[1]);
  s.panels.forEach((p, k) => {
    const r = ROWS[s.row0 + k];
    option.grid.push({left:col.left, top:r.top, width:col.width, height:r.h, show:false});
    const base = {gridIndex:gi, type:'value', splitLine:{show:false}, axisLine:{show:true, onZero:false, lineStyle:lineCol}};
    option.xAxis.push(Object.assign({}, base, {min:0, max:s.xmax, position:'bottom',
      axisTick:Object.assign({customValues:s.xt}, tickBase),
      axisLabel:Object.assign({customValues:s.xt, formatter:xlbl, margin:3}, txt),
      name:'time (s)', nameLocation:'middle', nameGap:p.gap, nameTextStyle:txt}));
    option.xAxis.push(Object.assign({}, base, {min:0, max:s.xmax, position:'top',
      axisTick:Object.assign({customValues:s.xt}, tickBase), axisLabel:{show:false}}));
    const isA = p.kind === 'a';
    const yt = isA ? AUDIO_YTICKS : p.yt;
    const ylbl = v => { if (isA) { const i = AUDIO_YTICKS.indexOf(v); return i < 0 ? '' : AUDIO_YLABELS[i]; } return String(v); };
    const ymin = isA ? -5 : p.ymin, ymax = isA ? 5 : p.ymax;
    option.yAxis.push(Object.assign({}, base, {min:ymin, max:ymax, position:'left',
      axisTick:Object.assign({customValues:yt}, tickBase),
      axisLabel:Object.assign({customValues:yt, formatter:ylbl, margin:5}, txt),
      name:isA ? p.name : GESTURE, nameLocation:'middle', nameRotate:90, nameGap:isA ? 26 : 22,
      nameTextStyle:Object.assign({lineHeight:14}, txt)}));
    option.yAxis.push(Object.assign({}, base, {min:ymin, max:ymax, position:'right',
      axisTick:Object.assign({customValues:yt}, tickBase), axisLabel:{show:false}}));
    const ax = {xAxisIndex:2*gi, yAxisIndex:2*gi, silent:true, emphasis:{disabled:true}};
    if (isA) {
      const mk = arr => arr.map((v, i) => [+(p.t0 + i*p.dt).toFixed(4), v]);
      option.series.push(Object.assign({type:'line', symbol:'none', data:mk(p.up), lineStyle:{color:'#000', width:0.8},
        areaStyle:{color:'#000', opacity:1},
        markLine:{silent:true, symbol:'none', label:{show:false}, animation:false,
          lineStyle:{color:'#000', width:1.2, type:'solid'}, data:[{yAxis:0}]}}, ax));
      option.series.push(Object.assign({type:'line', symbol:'none', data:mk(p.dn), lineStyle:{color:'#000', width:0.8},
        areaStyle:{color:'#000', opacity:1}}, ax));
    } else {
      const n = Math.min(p.hi.length, p.lo.length);
      const tx = i => +(i*s.gStep).toFixed(4);
      const bandData = [];
      for (let i = 0; i < n; i++) bandData.push([tx(i), p.lo[i], p.hi[i]]);
      option.series.push(Object.assign({type:'custom', data:bandData, encode:{x:0, y:[1,2]}, z:2,
        renderItem:(params, api) => {
          if (params.dataIndex !== 0) return null;
          const pts = [];
          for (let i = 0; i < n; i++) pts.push(api.coord([bandData[i][0], bandData[i][2]]));
          for (let i = n - 1; i >= 0; i--) pts.push(api.coord([bandData[i][0], bandData[i][1]]));
          const cs = params.coordSys;
          return {type:'polygon', shape:{points:pts},
            style:{fill:{image:pattern, repeat:'repeat'}, stroke:'#8c8c8c', lineWidth:1},
            clipPath:{type:'rect', shape:{x:cs.x, y:cs.y, width:cs.width, height:cs.height}}};
        }}, ax));
      option.series.push(Object.assign({type:'line', symbol:'none', data:p.mean.map((v, i) => [tx(i), v]), z:5,
        lineStyle:{color:'#ff0000', width:2}}, ax));
    }
    gi++;
  });
});

const chart = echarts.init(document.getElementById('c'), null, {renderer:'canvas'});
chart.setOption(option);
</script>
</body></html>
